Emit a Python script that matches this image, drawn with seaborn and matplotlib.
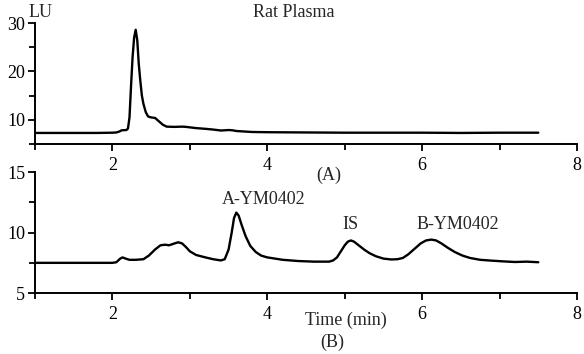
import numpy as np
import pandas as pd
import matplotlib
matplotlib.use("Agg")
import matplotlib.pyplot as plt
from matplotlib.ticker import MultipleLocator
import seaborn as sns

# --- chromatogram (A): rat plasma blank ---
time_a = [1.0, 1.5, 1.8, 2.0, 2.05, 2.09, 2.12, 2.18, 2.20, 2.22, 2.24, 2.26, 2.28,
          2.30, 2.32, 2.34, 2.36, 2.38, 2.40, 2.43, 2.46, 2.50, 2.55, 2.60, 2.65,
          2.70, 2.80, 2.90, 2.95, 3.08, 3.20, 3.30, 3.40, 3.50, 3.55, 3.60, 3.80,
          4.00, 4.50, 5.00, 5.50, 6.00, 6.50, 7.00, 7.50]
signal_a = [7.3, 7.3, 7.3, 7.35, 7.4, 7.6, 7.85, 7.9, 8.2, 10.5, 17.0, 23.0, 27.0,
            28.6, 26.5, 21.5, 18.0, 15.0, 13.3, 11.6, 10.7, 10.5, 10.4, 9.7, 9.0,
            8.6, 8.55, 8.6, 8.55, 8.3, 8.15, 8.0, 7.8, 7.9, 7.85, 7.7, 7.5,
            7.45, 7.4, 7.35, 7.35, 7.35, 7.3, 7.35, 7.35]

# --- chromatogram (B): spiked plasma ---
time_b = [1.0, 1.5, 1.8, 2.0, 2.05, 2.10, 2.13, 2.17, 2.22, 2.30, 2.40, 2.47, 2.55,
          2.62, 2.68, 2.73, 2.80, 2.85, 2.90, 2.95, 3.00, 3.08, 3.20, 3.30, 3.40,
          3.45, 3.50, 3.54, 3.57, 3.60, 3.63, 3.67, 3.72, 3.78, 3.85, 3.92, 4.00,
          4.20, 4.40, 4.60, 4.80, 4.85, 4.90, 4.95, 5.00, 5.04, 5.08, 5.12, 5.18,
          5.25, 5.32, 5.40, 5.50, 5.60, 5.68, 5.75, 5.82, 5.90, 5.98, 6.05, 6.12,
          6.18, 6.25, 6.33, 6.42, 6.52, 6.62, 6.75, 6.90, 7.05, 7.20, 7.35, 7.50]
signal_b = [7.5, 7.5, 7.5, 7.5, 7.55, 7.85, 7.95, 7.85, 7.75, 7.75, 7.8, 8.1, 8.6,
            8.95, 9.0, 8.95, 9.1, 9.2, 9.1, 8.8, 8.45, 8.15, 7.95, 7.8, 7.7,
            7.8, 8.6, 10.0, 11.2, 11.65, 11.4, 10.6, 9.7, 8.9, 8.4, 8.1, 7.95,
            7.75, 7.65, 7.6, 7.6, 7.7, 7.95, 8.45, 8.95, 9.25, 9.35, 9.25, 8.95,
            8.6, 8.3, 8.05, 7.85, 7.78, 7.8, 7.9, 8.2, 8.65, 9.1, 9.35, 9.42,
            9.35, 9.1, 8.75, 8.4, 8.1, 7.9, 7.75, 7.68, 7.62, 7.57, 7.6, 7.55]

peak_labels = ["A-YM0402", "IS", "B-YM0402"]
peak_label_x = [3.95, 5.08, 6.46]
peak_label_y = [12.75, 10.69, 10.69]

df_a = pd.DataFrame({"time": time_a, "signal": signal_a})
df_b = pd.DataFrame({"time": time_b, "signal": signal_b})

sns.set_style("ticks")
plt.rcParams["font.family"] = ["Liberation Serif", "DejaVu Serif"]
plt.rcParams["font.size"] = 13

fig = plt.figure(figsize=(5.84, 3.54), dpi=100)
ax_a = fig.add_axes([0.060, 0.593, 0.928, 0.342])
ax_b = fig.add_axes([0.060, 0.172, 0.928, 0.342])

for ax, df in [(ax_a, df_a), (ax_b, df_b)]:
    sns.lineplot(data=df, x="time", y="signal", ax=ax, color="black", linewidth=1.7)
    ax.set_xlim(1, 8)
    ax.set_xticks([2, 4, 6, 8])
    ax.xaxis.set_minor_locator(MultipleLocator(1))
    ax.set_xlabel("")
    ax.set_ylabel("")
    sns.despine(ax=ax)
    for side in ["left", "bottom"]:
        ax.spines[side].set_linewidth(1.4)
        ax.spines[side].set_color("black")
    ax.tick_params(which="major", direction="out", length=5, width=1.3,
                   colors="black", labelsize=13)
    ax.tick_params(which="minor", direction="out", length=4, width=1.3, colors="black")
    ax.tick_params(axis="x", pad=4)
    ax.tick_params(axis="y", pad=2)
    ax.set_facecolor("white")

ax_a.set_ylim(5, 30)
ax_a.set_yticks([10, 20, 30])
ax_a.yaxis.set_minor_locator(MultipleLocator(5))

ax_b.set_ylim(5, 15)
ax_b.set_yticks([5, 10, 15])
ax_b.yaxis.set_minor_locator(MultipleLocator(2.5))

for lab, x, y in zip(peak_labels, peak_label_x, peak_label_y):
    ax_b.text(x, y, lab, ha="center", va="center", fontsize=13)

fig.text(0.048, 0.966, "LU", ha="left", va="center", fontsize=13)
fig.text(0.503, 0.966, "Rat Plasma", ha="center", va="center", fontsize=13)
fig.text(0.5625, 0.506, "(A)", ha="center", va="center", fontsize=13)
fig.text(0.592, 0.096, "Time (min)", ha="center", va="center", fontsize=13)
fig.text(0.569, 0.034, "(B)", ha="center", va="center", fontsize=13)

fig.savefig("out.png", dpi=100, facecolor="white")
